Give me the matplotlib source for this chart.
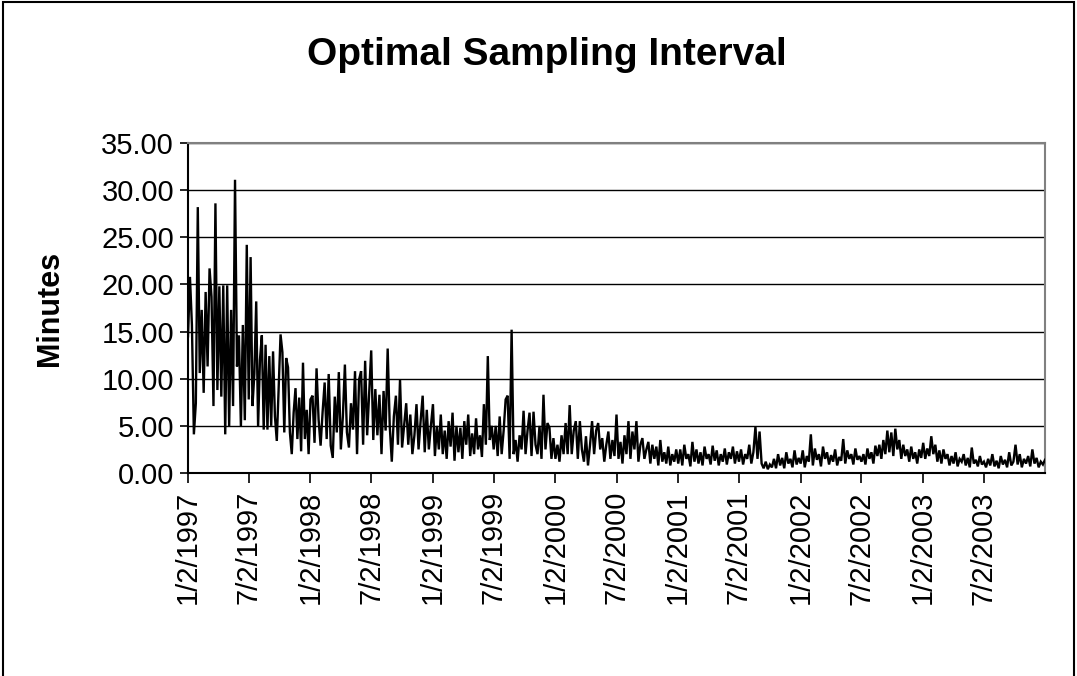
import matplotlib
matplotlib.use("Agg")
import matplotlib.pyplot as plt
import matplotlib.dates as mdates
from matplotlib.patches import Rectangle
from datetime import datetime
import numpy as np

plt.rcParams['font.family'] = ['Liberation Sans', 'DejaVu Sans']

# Half-year segment boundaries (tick labels) and the end of the series
tick_labels = ["1/2/1997", "7/2/1997", "1/2/1998", "7/2/1998", "1/2/1999", "7/2/1999",
               "1/2/2000", "7/2/2000", "1/2/2001", "7/2/2001", "1/2/2002", "7/2/2002",
               "1/2/2003", "7/2/2003"]
end_label = "12/31/2003"

# Optimal sampling interval (minutes), read per half-year
h1997a = [14.5, 20.8, 15.7, 4.1, 7.4, 28.2, 10.6, 17.3, 8.5, 19.2, 11.3, 21.7, 18.7, 7.1, 28.6,
          8.8, 19.8, 8.1, 19.9, 4.1, 19.9, 4.9, 17.3, 7.1, 31.1, 11.3, 14.6, 4.9, 15.7, 5.6, 24.2]
h1997b = [7.8, 22.9, 7.1, 10.5, 18.2, 4.9, 12.0, 14.6, 4.6, 13.6, 4.6, 12.4, 5.0, 12.9, 6.0,
          3.4, 9.0, 14.7, 12.8, 4.3, 12.2, 11.2, 4.3, 2.0, 6.4, 9.0, 3.6, 8.0, 2.3, 11.7, 3.6, 6.7, 2.0]
h1998a = [7.8, 8.2, 3.2, 11.1, 5.7, 2.9, 6.5, 9.6, 3.6, 10.5, 2.9, 1.6, 8.1, 4.3, 10.7,
          2.5, 6.0, 11.5, 4.3, 2.7, 7.4, 4.6, 10.8, 2.0, 9.9, 10.8, 3.0, 11.9, 4.0, 8.5]
h1998b = [13.0, 3.5, 8.9, 4.0, 8.3, 2.0, 8.7, 4.5, 13.2, 5.0, 1.2, 6.0, 8.2, 3.0, 9.9,
          2.7, 5.0, 7.4, 3.0, 6.2, 2.0, 4.0, 7.3, 2.5, 5.5, 8.2, 2.2, 6.7, 2.5, 5.0]
h1999a = [7.3, 1.8, 5.0, 2.5, 6.2, 2.0, 4.5, 1.5, 5.5, 2.8, 6.4, 1.3, 5.0, 2.2, 4.8, 1.5,
          5.5, 3.0, 6.2, 1.8, 4.2, 2.0, 5.8, 2.5, 4.0, 1.7, 7.3, 3.0, 12.4, 3.5, 5.0]
h1999b = [2.5, 5.0, 1.8, 6.0, 2.0, 4.5, 7.8, 8.2, 1.5, 15.2, 2.0, 3.5, 1.2, 4.0, 2.5, 6.6,
          2.0, 4.5, 6.4, 1.8, 6.5, 3.0, 2.0, 5.0, 1.5, 8.3, 2.5, 5.3, 4.8, 1.5, 3.7]
h2000a = [1.5, 3.0, 1.2, 4.0, 2.0, 5.3, 2.0, 7.2, 2.0, 4.5, 5.5, 1.5, 5.5, 2.5, 1.2,
          3.9, 0.8, 3.0, 5.5, 2.0, 4.5, 5.3, 2.5, 3.7, 1.2, 3.0, 4.4, 1.5, 3.5, 1.8]
h2000b = [6.2, 1.5, 3.3, 1.0, 4.0, 2.0, 5.5, 1.5, 4.4, 2.5, 5.5, 1.2, 3.0, 3.7, 1.5, 2.5,
          3.3, 1.0, 3.0, 1.5, 2.8, 0.8, 3.5, 1.2, 2.2, 1.0, 2.8, 0.8, 2.0, 1.2, 2.5]
h2001a = [1.0, 2.5, 0.8, 3.0, 1.5, 2.0, 0.7, 3.3, 1.2, 2.5, 1.0, 2.2, 0.8, 2.8, 1.5,
          2.0, 0.9, 2.9, 1.3, 2.4, 0.8, 2.0, 1.2, 2.6, 0.9, 2.2, 1.5, 2.8, 1.0, 2.3]
h2001b = [1.2, 2.5, 0.9, 2.0, 1.5, 3.0, 1.0, 2.2, 4.9, 1.5, 4.4, 1.0, 0.5, 1.2, 0.4,
          0.9, 0.6, 1.5, 0.5, 2.0, 0.8, 1.6, 0.5, 2.2, 1.0, 1.5, 0.6, 2.4, 0.9, 1.6]
h2002a = [1.0, 2.4, 0.6, 1.8, 1.2, 4.1, 0.8, 2.6, 1.4, 2.0, 0.7, 2.8, 1.5, 2.2, 0.9,
          1.9, 1.2, 2.5, 0.8, 1.7, 1.3, 3.6, 1.0, 2.4, 1.5, 2.0, 0.9, 2.6, 1.4, 1.8]
h2002b = [1.2, 2.0, 0.9, 2.6, 1.5, 2.2, 1.0, 2.9, 1.8, 3.0, 1.5, 3.5, 2.0, 4.5, 2.2, 4.3,
          1.8, 4.7, 2.5, 3.5, 1.5, 3.0, 1.8, 2.5, 1.2, 2.8, 1.5, 2.2, 1.0, 2.5, 1.6]
h2003a = [3.2, 1.5, 2.6, 1.8, 3.9, 2.0, 3.0, 1.2, 2.4, 1.0, 2.5, 1.5, 2.0, 0.8, 1.8,
          1.0, 2.2, 0.7, 1.5, 1.2, 2.0, 0.8, 1.6, 0.6, 2.7, 1.0, 1.4, 0.7, 1.8, 0.9]
h2003b = [1.2, 0.6, 1.5, 0.8, 2.0, 0.7, 1.3, 0.5, 1.8, 0.9, 1.4, 0.6, 2.2, 0.8, 1.2,
          3.0, 0.9, 2.0, 0.6, 1.5, 1.0, 1.8, 0.7, 2.5, 1.0, 1.6, 0.6, 1.2, 0.9, 1.4]

segments = [h1997a, h1997b, h1998a, h1998b, h1999a, h1999b, h2000a, h2000b,
            h2001a, h2001b, h2002a, h2002b, h2003a, h2003b]

bounds = [mdates.date2num(datetime.strptime(s, "%m/%d/%Y")) for s in tick_labels + [end_label]]

xs, ys = [], []
for k, seg in enumerate(segments):
    a, b = bounds[k], bounds[k + 1]
    n = len(seg)
    last = (k == len(segments) - 1)
    pos = np.linspace(a, b, n, endpoint=last)
    xs.extend(pos)
    ys.extend(seg)

fig = plt.figure(figsize=(10.77, 6.76), dpi=100)
ax = fig.add_axes([188 / 1077, 1 - 473 / 676, (1045 - 188) / 1077, (473 - 143) / 676])

ax.plot(xs, ys, color='black', lw=1.7, zorder=3, solid_joinstyle='miter')

ax.set_xlim(bounds[0], bounds[-1])
ax.set_ylim(0, 35)
ax.set_yticks(np.arange(0, 35.1, 5))
ax.set_yticklabels([f"{v:.2f}" for v in np.arange(0, 35.1, 5)], fontsize=21)
ax.set_xticks(bounds[:-1])
ax.set_xticklabels(tick_labels, rotation=90, fontsize=21)
ax.tick_params(axis='y', direction='out', length=6, width=1.2, pad=4)
ax.tick_params(axis='x', direction='out', length=7, width=1.2, pad=6)

ax.yaxis.grid(True, color='black', lw=1.0)
ax.set_axisbelow(True)

for side in ['top', 'right']:
    ax.spines[side].set_color('#808080')
    ax.spines[side].set_linewidth(1.5)
for side in ['left', 'bottom']:
    ax.spines[side].set_color('black')
    ax.spines[side].set_linewidth(1.5)

ax.set_ylabel("Minutes", fontsize=22, fontweight='bold', labelpad=26)
fig.text(0.508, 1 - 55 / 676, "Optimal Sampling Interval", ha='center', va='center',
         fontsize=28, fontweight='bold')

fig.add_artist(Rectangle((0.0025, -0.02), 0.9945, 1.017, transform=fig.transFigure,
                         fill=False, lw=1.5, edgecolor='black'))

fig.savefig("out.png", dpi=100)
